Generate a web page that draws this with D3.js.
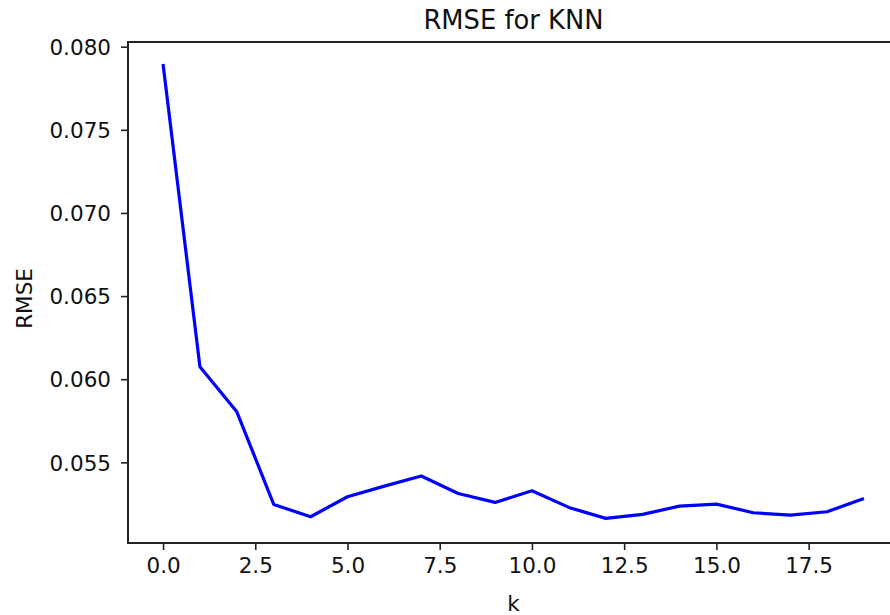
<!DOCTYPE html>
<html>
<head>
<meta charset="utf-8">
<script src="https://cdn.jsdelivr.net/npm/d3@7"></script>
<style>
  body { margin: 0; background: #fff; }
  text { font-family: "DejaVu Sans", sans-serif; fill: #111; }
</style>
</head>
<body>
<div class="chart"></div>
<script>
// Data
var kValues = [0, 1, 2, 3, 4, 5, 6, 7, 8, 9, 10, 11, 12, 13, 14, 15, 16, 17, 18, 19];
var rmseValues = [0.07896, 0.06075, 0.05804, 0.05247, 0.05173, 0.05293, 0.05357, 0.05418,
  0.05313, 0.05259, 0.05329, 0.05229, 0.05163, 0.05187, 0.05237, 0.05249, 0.05197,
  0.05183, 0.05203, 0.05283];
var xTicks = [0, 2.5, 5, 7.5, 10, 12.5, 15, 17.5];
var yTicks = [0.055, 0.060, 0.065, 0.070, 0.075, 0.080];
var xLimits = [-0.95, 19.95];
var yLimits = [0.05015, 0.08028];

// Setup chart dimension
var svgWidth = 890;
var svgHeight = 615;
var margin = { top: 42, right: -9, bottom: 72, left: 128 };
var width = svgWidth - margin.left - margin.right;
var height = svgHeight - margin.top - margin.bottom;

var svg = d3.select(".chart")
  .append("svg")
  .attr("width", svgWidth)
  .attr("height", svgHeight)
  .style("display", "block");

var chart = svg.append("g")
  .attr("transform", "translate(" + margin.left + "," + margin.top + ")");

var xScale = d3.scaleLinear().domain(xLimits).range([0, width]);
var yScale = d3.scaleLinear().domain(yLimits).range([height, 0]);

var bottomAxis = d3.axisBottom(xScale)
  .tickValues(xTicks)
  .tickFormat(d3.format(".1f"))
  .tickSizeInner(7)
  .tickSizeOuter(0)
  .tickPadding(6);
var leftAxis = d3.axisLeft(yScale)
  .tickValues(yTicks)
  .tickFormat(d3.format(".3f"))
  .tickSizeInner(7)
  .tickSizeOuter(0)
  .tickPadding(10);

// Axes
var xAxisG = chart.append("g")
  .attr("transform", "translate(0," + height + ")")
  .call(bottomAxis);
var yAxisG = chart.append("g")
  .call(leftAxis);

[xAxisG, yAxisG].forEach(function(g) {
  g.select(".domain").remove();
  g.selectAll(".tick line").attr("stroke", "#222").attr("stroke-width", 1.6);
  g.selectAll(".tick text")
    .attr("font-size", "21.5px")
    .attr("font-family", "DejaVu Sans, sans-serif")
    .attr("fill", "#111");
});
xAxisG.selectAll(".tick text").attr("dy", "0.78em");
yAxisG.selectAll(".tick text").attr("dy", "0.36em");

// Frame (spines)
chart.append("rect")
  .attr("x", 0)
  .attr("y", 0)
  .attr("width", width)
  .attr("height", height)
  .attr("fill", "none")
  .attr("stroke", "#222")
  .attr("stroke-width", 2);

// Line
var line = d3.line()
  .x(function(d, i) { return xScale(kValues[i]); })
  .y(function(d) { return yScale(d); });

chart.append("path")
  .datum(rmseValues)
  .attr("d", line)
  .attr("fill", "none")
  .attr("stroke", "#0000ff")
  .attr("stroke-width", 3.2)
  .attr("stroke-linejoin", "round");

// Title and axis labels
chart.append("text")
  .attr("x", width / 2)
  .attr("y", -13)
  .attr("text-anchor", "middle")
  .attr("font-size", "25.8px")
  .text("RMSE for KNN");

chart.append("text")
  .attr("x", width / 2)
  .attr("y", height + 68)
  .attr("text-anchor", "middle")
  .attr("font-size", "21.5px")
  .text("k");

chart.append("text")
  .attr("transform", "translate(" + (32 - margin.left) + "," + (height / 2 + 6) + ") rotate(-90)")
  .attr("text-anchor", "middle")
  .attr("font-size", "21.5px")
  .text("RMSE");
</script>
</body>
</html>
